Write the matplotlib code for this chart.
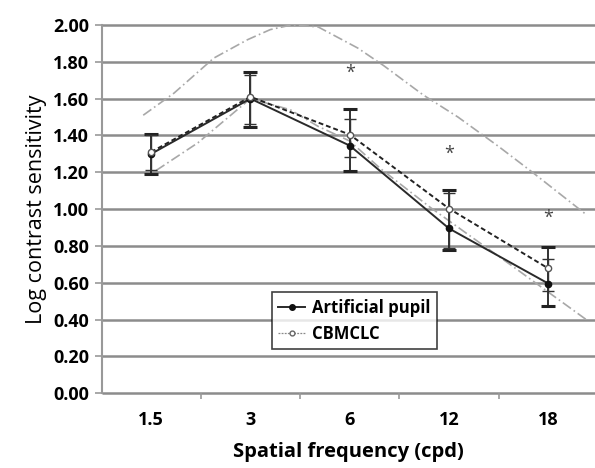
import matplotlib
matplotlib.use("Agg")
import matplotlib.pyplot as plt
import numpy as np
from matplotlib.lines import Line2D
from matplotlib.ticker import FixedLocator

plt.rcParams["font.family"] = ["Open Sans", "DejaVu Sans"]

# --- data ---
freqs = ["1.5", "3", "6", "12", "18"]
pupil = [1.30, 1.60, 1.345, 0.895, 0.596]
pupil_lo = [1.19, 1.447, 1.207, 0.777, 0.473]
pupil_hi = [1.41, 1.746, 1.543, 1.103, 0.795]
cbmclc = [1.31, 1.61, 1.405, 1.003, 0.678]
cbmclc_lo = [1.21, 1.46, 1.284, 0.79, 0.556]
cbmclc_hi = [1.40, 1.73, 1.487, 1.09, 0.727]
star_vals = [1.74, 1.30, 0.955]
star_idx = [2, 3, 4]
y_ticks = [0.0, 0.2, 0.4, 0.6, 0.8, 1.0, 1.2, 1.4, 1.6, 1.8, 2.0]

# normal range curves (category-index position, value)
upper_pos = [-0.08, 0.23, 0.63, 0.97, 1.2, 1.41, 1.68, 2.08, 2.34, 2.74, 3.09, 3.5, 3.85, 4.39]
upper_val = [1.51, 1.63, 1.82, 1.92, 1.975, 2.00, 1.99, 1.875, 1.78, 1.62, 1.50, 1.34, 1.196, 0.967]
lower_pos = [0.05, 0.47, 1.0, 1.4, 1.68, 2.0, 2.31, 2.81, 3.25, 3.65, 4.39]
lower_val = [1.21, 1.36, 1.60, 1.54, 1.45, 1.37, 1.22, 1.01, 0.84, 0.686, 0.397]

x = np.arange(len(freqs))
x_lo, x_hi = -0.5, 4.47

fig = plt.figure(figsize=(5.95, 4.68), dpi=100)
ax = fig.add_axes([0.1706, 0.1596, 0.8294, 0.787])

# gridlines
for yv in y_ticks:
    ax.plot([x_lo, x_hi], [yv, yv], color="#8c8c8c", lw=1.8, zorder=0.8,
            solid_capstyle="butt", clip_on=False)

# range curves
ax.plot(upper_pos, upper_val, color="#a8a8a8", lw=1.2, ls=(0, (6, 2, 1, 2)), zorder=1, clip_on=False)
ax.plot(lower_pos, lower_val, color="#a8a8a8", lw=1.2, ls=(0, (6, 2, 1, 2)), zorder=1)

# error bars
ax.errorbar(x, pupil,
            yerr=[np.array(pupil) - np.array(pupil_lo), np.array(pupil_hi) - np.array(pupil)],
            fmt="none", ecolor="#222222", elinewidth=1.3, capsize=5, capthick=2.2, zorder=2)
ax.errorbar(x, cbmclc,
            yerr=[np.array(cbmclc) - np.array(cbmclc_lo), np.array(cbmclc_hi) - np.array(cbmclc)],
            fmt="none", ecolor="#333333", elinewidth=1.0, capsize=4, capthick=1.0, zorder=2)

# series
ax.plot(x, pupil, color="#2a2a2a", lw=1.4, marker="o", ms=4.5,
        mfc="#111111", mec="#111111", zorder=3)
ax.plot(x, cbmclc, color="#222222", lw=1.4, ls=(0, (2.5, 1.5)), marker="o", ms=4.5,
        mfc="white", mec="#555555", mew=1.0, zorder=3)

# significance stars
for i, v in zip(star_idx, star_vals):
    ax.text(x[i], v, "*", ha="center", va="center", fontsize=13, color="#444444")

ax.set_xlim(x_lo, x_hi)
ax.set_ylim(0, 2.0)
ax.set_yticks(y_ticks)
ax.set_yticklabels([f"{v:.2f}" for v in y_ticks], fontsize=13, fontweight="bold")
ax.set_xticks(x)
ax.set_xticklabels(freqs, fontsize=13, fontweight="bold")
ax.xaxis.set_minor_locator(FixedLocator([0.5, 1.5, 2.5, 3.5]))
ax.tick_params(axis="x", which="major", length=0, pad=13)
ax.tick_params(axis="x", which="minor", length=4, color="#999999", width=1.2)
ax.tick_params(axis="y", length=5, color="#999999", width=1.2, pad=4)

for s in ["top", "right", "bottom"]:
    ax.spines[s].set_visible(False)
ax.spines["left"].set_color("#999999")
ax.spines["left"].set_linewidth(1.5)

ax.set_ylabel("Log contrast sensitivity", fontsize=15.5, labelpad=4)
ax.set_xlabel("Spatial frequency (cpd)", fontsize=14.5, fontweight="bold", labelpad=9)

handles = [
    Line2D([], [], color="#2a2a2a", lw=1.4, marker="o", ms=4, mfc="#111111", mec="#111111"),
    Line2D([], [], color="#888888", lw=0.9, ls=(0, (1.5, 1)), marker="o", ms=3.5,
           mfc="white", mec="#666666"),
]
leg = ax.legend(handles, ["Artificial pupil", "CBMCLC"], loc="upper left",
                bbox_to_anchor=(0.345, 0.274), frameon=True,
                fancybox=False, edgecolor="#111111", handlelength=1.6, handletextpad=0.4,
                prop={"weight": "bold", "size": 12}, borderpad=0.4, labelspacing=0.45,
                borderaxespad=0)
leg.get_frame().set_linewidth(1.2)

fig.savefig("out.png", dpi=100)
